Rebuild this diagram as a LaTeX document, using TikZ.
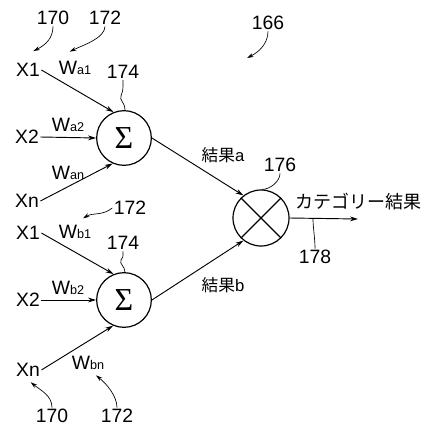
\documentclass[tikz,border=0pt]{standalone}
\usepackage{fontspec}
\setmainfont{Liberation Sans}
\newfontfamily\jpfont{Noto Sans CJK JP}
\newfontfamily\sigfont{Liberation Serif}
\usetikzlibrary{arrows.meta}
\newcommand\Wlab[1]{W{\fontsize{9.5}{9.5}\selectfont #1}}
\begin{document}
\begin{tikzpicture}[x=0.75pt,y=-0.75pt,
  lab/.style={font=\fontsize{14.5}{14.5}\selectfont, inner sep=1pt},
  jlab/.style={font=\fontsize{12.5}{12.5}\selectfont, inner sep=1pt},
  neuron/.style={draw, circle, minimum size=41pt, inner sep=0pt, line width=0.9pt},
  sig/.style={font=\fontsize{24}{24}\selectfont\sigfont},
  arr/.style={-{Stealth[length=6pt,width=3.6pt]}, line width=0.7pt},
  lead/.style={line width=0.5pt},
  leadarr/.style={-{Stealth[length=5pt,width=3pt]}, line width=0.5pt}]
\useasboundingbox (0,0) rectangle (422,427);

% inputs, group a
\node[lab] (x1a) at (28,70) {X1};
\node[lab] (x2a) at (27,137) {X2};
\node[lab] (xna) at (27,201) {Xn};
% inputs, group b
\node[lab] (x1b) at (28,233) {X1};
\node[lab] (x2b) at (28,300) {X2};
\node[lab] (xnb) at (28,370) {Xn};

% summation nodes
\node[neuron, sig] (sa) at (124,138) {Σ};
\node[neuron, sig] (sb) at (124,300) {Σ};

% product node
\node[neuron, minimum size=42pt] (p) at (261,218) {};
\draw[line width=0.9pt] (p.45) -- (p.225) (p.135) -- (p.315);

% weights
\node[lab] (wa1) at (75,68) {\Wlab{a1}};
\node[lab] (wa2) at (68,125) {\Wlab{a2}};
\node[lab] (wan) at (68,173) {\Wlab{an}};
\node[lab] (wb1) at (75,232) {\Wlab{b1}};
\node[lab] (wb2) at (68,288) {\Wlab{b2}};
\node[lab] (wbn) at (88,363) {\Wlab{bn}};

% input connectors
\draw[arr] (x1a.east) -- (sa.112);
\draw[arr] (x2a.east) -- (sa.west);
\draw[arr] (xna.east) -- (sa.246);
\draw[arr] (x1b.east) -- (sb.112);
\draw[arr] (x2b.east) -- (sb.west);
\draw[arr] (xnb.east) -- (sb.247);

% to product
\draw[arr] (sa.east) -- (p.128);
\draw[arr] (sb.east) -- (p.232);
\node[jlab] (ra) at (223,155) {{\jpfont 結果}a};
\node[jlab] (rb) at (223,285) {{\jpfont 結果}b};

% output
\coordinate (out) at (358,219);
\draw[arr] (p.east) -- (out);
\node[font=\fontsize{13.5}{13.5}\selectfont\jpfont, inner sep=1pt] (cat) at (358,202) {カテゴリー結果};

% reference numerals
\node[lab] (n170a) at (53,18) {170};
\node[lab] (n172a) at (105,18) {172};
\node[lab] (n174a) at (123,72) {174};
\node[lab] (n172b) at (130,208) {172};
\node[lab] (n174b) at (123,243) {174};
\node[lab] (n170b) at (52,416) {170};
\node[lab] (n172c) at (117,416) {172};
\node[lab] (n166) at (268,23) {166};
\node[lab] (n176) at (280,165) {176};
\node[lab] (n178) at (315,257) {178};

% leader lines
\draw[leadarr] (n170a.south) .. controls +(0,12) and +(12,-6) .. ([xshift=4, yshift=8]x1a.north);
\draw[leadarr] (n172a.south) .. controls +(0,12) and +(12,-6) .. ([xshift=-4,yshift=6]wa1.north);
\draw[leadarr] (n172b.west) .. controls +(-10,8) and +(10,-6) .. ([xshift=6,yshift=4]wb1.north);
\draw[leadarr] (n170b.north) .. controls +(0,-12) and +(10,8) .. ([xshift=2,yshift=-3]xnb.south);
\draw[leadarr] (n172c.north) .. controls +(0,-12) and +(10,8) .. ([xshift=6,yshift=-3]wbn.south);
\coordinate (c166) at (247,58);
\draw[leadarr] (n166.south) .. controls +(0,12) and +(12,-6) .. (c166);
\draw[lead] (n174a.south) .. controls +(0,10) and +(2,-4) .. (121,96) .. controls +(-2,4) and +(0,-8) .. (sa.88);
\draw[lead] (n174b.south) .. controls +(0,8) and +(2,-4) .. (121,260) .. controls +(-2,4) and +(0,-6) .. (sb.88);
\draw[lead] (n176.south) .. controls +(0,8) and +(8,0) .. (p.88);
\coordinate (c178) at (313,219);
\draw[lead] (c178) .. controls +(0,8) and +(0,-10) .. (n178.north);
\end{tikzpicture}
\end{document}
